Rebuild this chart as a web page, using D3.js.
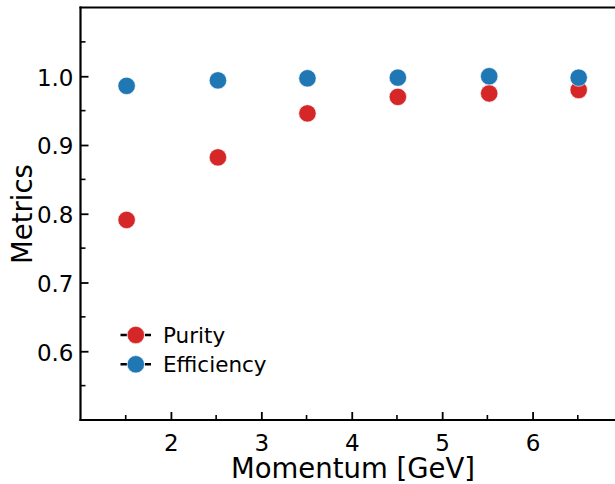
<!DOCTYPE html>
<html><head><meta charset="utf-8">
<script src="https://cdn.jsdelivr.net/npm/d3@7"></script>
<style>
html,body{margin:0;padding:0;background:#fff;}
svg{display:block;}
text{font-family:"DejaVu Sans",sans-serif;fill:#000;}
</style></head>
<body>
<script>
const momentum = [1.51, 2.52, 3.51, 4.51, 5.52, 6.51];
const purity = [0.791, 0.882, 0.946, 0.970, 0.975, 0.980];
const efficiency = [0.986, 0.994, 0.997, 0.998, 1.000, 0.998];
const seriesNames = ["Purity", "Efficiency"];
const xTicks = [2, 3, 4, 5, 6];
const yTicks = [0.6, 0.7, 0.8, 0.9, 1.0];

const W = 615, H = 484;
const colors = {Purity: "#d62728", Efficiency: "#1f77b4"};
const svg = d3.select("body").append("svg").attr("width", W).attr("height", H);

const x = d3.scaleLinear().domain([1, 7]).range([80.5, 623]);
const y = d3.scaleLinear().domain([0.5, 1.1]).range([420, 7.5]);

// spines
svg.append("line").attr("x1", x(1)).attr("x2", x(1)).attr("y1", y(0.5)+1).attr("y2", y(1.1)-1).attr("stroke", "#000").attr("stroke-width", 2.2);
svg.append("line").attr("x1", x(1)-1).attr("x2", W).attr("y1", y(0.5)).attr("y2", y(0.5)).attr("stroke", "#000").attr("stroke-width", 2.2);
svg.append("line").attr("x1", x(1)-1).attr("x2", W).attr("y1", y(1.1)).attr("y2", y(1.1)).attr("stroke", "#000").attr("stroke-width", 2.2);

// y axis
const yAxis = d3.axisRight(y).tickValues(yTicks).tickSize(8).tickFormat(d3.format(".1f"));
const gy = svg.append("g").attr("transform", `translate(${x(1)},0)`).call(yAxis);
gy.select(".domain").remove();
gy.selectAll(".tick line").attr("stroke", "#000").attr("stroke-width", 1.8);
gy.selectAll(".tick text").attr("x", -7).attr("text-anchor", "end").style("font-size", "23px").attr("dy", "0.38em");
const yMinor = d3.range(0.55, 1.1, 0.1);
svg.append("g").selectAll("line").data(yMinor).join("line")
  .attr("x1", x(1)).attr("x2", x(1)+5).attr("y1", d=>y(d)).attr("y2", d=>y(d))
  .attr("stroke", "#000").attr("stroke-width", 1.6);

// x axis
const xAxis = d3.axisTop(x).tickValues(xTicks).tickSize(8).tickFormat(d3.format("d"));
const gx = svg.append("g").attr("transform", `translate(0,${y(0.5)})`).call(xAxis);
gx.select(".domain").remove();
gx.selectAll(".tick line").attr("stroke", "#000").attr("stroke-width", 1.8);
gx.selectAll(".tick text").attr("y", 14).attr("dy", "0.73em").style("font-size", "23px");
const xMinor = d3.range(1.5, 7, 1);
svg.append("g").selectAll("line").data(xMinor).join("line")
  .attr("x1", d=>x(d)).attr("x2", d=>x(d)).attr("y1", y(0.5)).attr("y2", y(0.5)-5)
  .attr("stroke", "#000").attr("stroke-width", 1.6);

// labels
svg.append("text").attr("x", 353).attr("y", 478.3).attr("text-anchor", "middle").style("font-size", "27.5px").text("Momentum [GeV]");
svg.append("text").attr("transform", "translate(32,214) rotate(-90)").attr("text-anchor", "middle").style("font-size", "27.5px").text("Metrics");

// points
const plot = svg.append("g");
const seriesData = {Purity: purity, Efficiency: efficiency};
seriesNames.forEach(name => {
  plot.append("g").selectAll("circle").data(momentum.map((m,i)=>[m, seriesData[name][i]])).join("circle")
    .attr("cx", d=>x(d[0])).attr("cy", d=>y(d[1])).attr("r", 8.7)
    .attr("fill", colors[name]).attr("stroke", "#fff").attr("stroke-width", 0.6);
});

// legend
const leg = svg.append("g");
seriesNames.forEach((name, i) => {
  const cy = 335 + i*29.3;
  leg.append("line").attr("x1", 120.5).attr("x2", 151).attr("y1", cy).attr("y2", cy)
    .attr("stroke", "#000").attr("stroke-width", 2.6).attr("stroke-dasharray", "6.5,2.5,13,2.5,6.5");
  leg.append("circle").attr("cx", 135.8).attr("cy", cy).attr("r", 8.7).attr("fill", colors[name]).attr("stroke", "#fff").attr("stroke-width", 0.6);
  leg.append("text").attr("x", 163).attr("y", cy).attr("dy", "0.36em").style("font-size", "21.5px").text(name);
});
</script>
</body></html>
